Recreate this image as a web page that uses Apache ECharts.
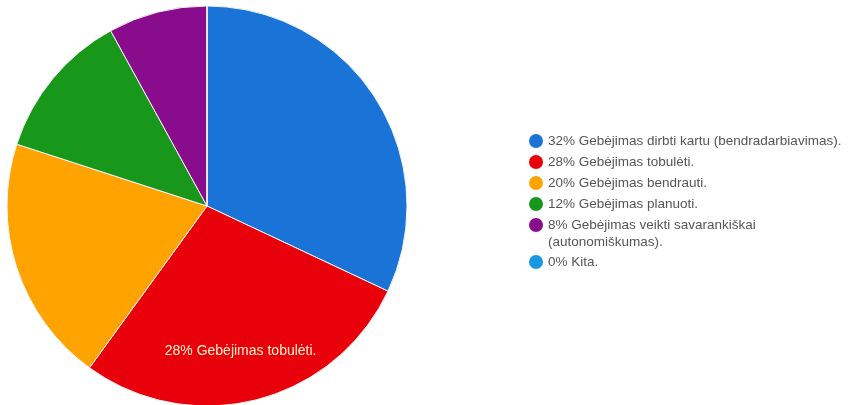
<!DOCTYPE html>
<html>
<head>
<meta charset="utf-8">
<script src="https://cdn.jsdelivr.net/npm/echarts@6/dist/echarts.min.js"></script>
<style>
  html, body { margin: 0; padding: 0; background: #fff; }
  #chart { width: 852px; height: 405px; }
</style>
</head>
<body>
<div id="chart"></div>
<script>
// skill names and shares (%)
var names = [
  'Gebėjimas dirbti kartu (bendradarbiavimas).',
  'Gebėjimas tobulėti.',
  'Gebėjimas bendrauti.',
  'Gebėjimas planuoti.',
  'Gebėjimas veikti savarankiškai',
  'Kita.'
];
var values = [32, 28, 20, 12, 8, 0];
var colors = ['#1a74d8', '#e8000b', '#ffa300', '#18981a', '#890c8c', '#1b96e0'];

var chart = echarts.init(document.getElementById('chart'));

var pieData = names.map(function (n, i) {
  var item = { name: n, value: values[i], itemStyle: { color: colors[i] } };
  if (i === 1) {
    // only the red slice carries a label inside
    item.label = {
      show: true,
      position: 'inside',
      formatter: values[i] + '% ' + n,
      color: '#fff3c8',
      fontSize: 14,
      fontFamily: 'Liberation Sans, Arial, sans-serif',
      offset: [8, 45]
    };
  }
  return item;
});

function legendText(name) {
  var i = names.indexOf(name);
  return values[i] + '% ' + name;
}

var legendCommon = {
  orient: 'vertical',
  left: 529,
  padding: 0,
  icon: 'circle',
  itemWidth: 14,
  itemHeight: 14,
  itemGap: 5,
  selectedMode: false,
  formatter: legendText,
  itemStyle: { borderWidth: 0 },
  textStyle: {
    color: '#555',
    fontSize: 13.5,
    lineHeight: 16,
    fontFamily: 'Liberation Sans, Arial, sans-serif'
  }
};

var option = {
  animation: false,
  legend: [
    Object.assign({}, legendCommon, { top: 133, data: names.slice(0, 5) }),
    Object.assign({}, legendCommon, { top: 254, data: names.slice(5) })
  ],
  graphic: [{
    type: 'text',
    left: 548,
    top: 235,
    style: {
      text: '(autonomiškumas).',
      fill: '#555',
      fontSize: 13.5,
      fontFamily: 'Liberation Sans, Arial, sans-serif'
    }
  }],
  series: [{
    type: 'pie',
    center: [207, 206],
    radius: 200,
    startAngle: 90,
    clockwise: true,
    label: { show: false },
    labelLine: { show: false },
    itemStyle: { borderColor: '#f4f4f4', borderWidth: 1 },
    emphasis: { disabled: true },
    data: pieData
  }]
};

chart.setOption(option);
</script>
</body>
</html>
